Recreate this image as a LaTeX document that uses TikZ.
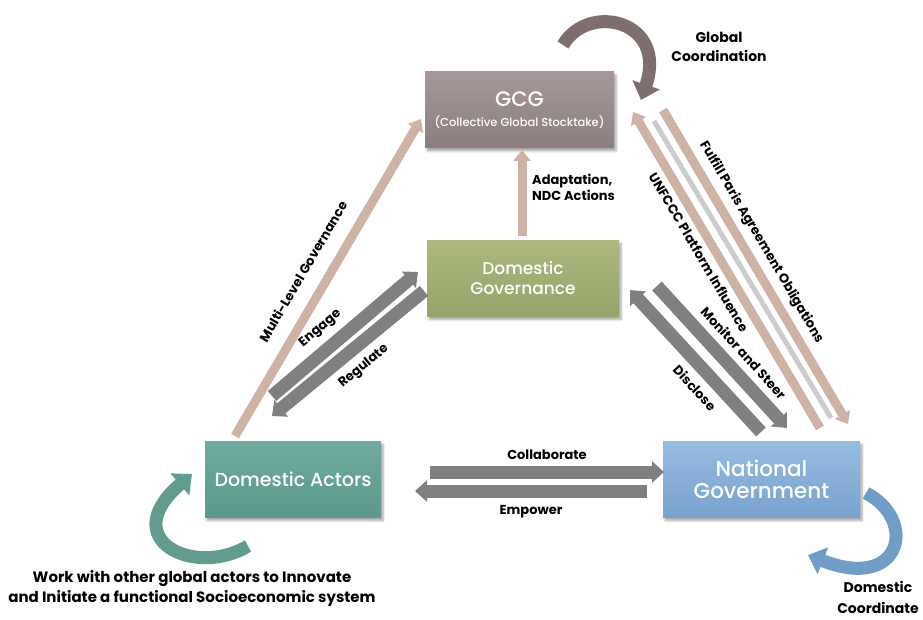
\documentclass[tikz,border=0pt]{standalone}
\usepackage{fontspec}
\setmainfont{Poppins}
\newfontfamily\boxfont{Poppins Medium}
\usetikzlibrary{arrows.meta,shadows.blur,calc}
\definecolor{gcgtop}{RGB}{166,152,152}
\definecolor{gcgbot}{RGB}{140,126,126}
\definecolor{dgtop}{RGB}{172,184,128}
\definecolor{dgbot}{RGB}{150,163,106}
\definecolor{datop}{RGB}{112,170,158}
\definecolor{dabot}{RGB}{92,152,140}
\definecolor{ngtop}{RGB}{150,188,225}
\definecolor{ngbot}{RGB}{120,162,205}
\definecolor{tanc}{RGB}{206,178,166}
\definecolor{grayc}{RGB}{128,128,128}
\definecolor{gccurve}{RGB}{126,110,110}
\definecolor{dacurve}{RGB}{98,156,142}
\definecolor{ngcurve}{RGB}{112,156,200}
\begin{document}
\begin{tikzpicture}[x=1pt,y=-1pt,
  box/.style={rectangle, minimum height=76pt, text=white, align=center, inner sep=0pt,
    blur shadow={shadow blur steps=6, shadow xshift=2pt, shadow yshift=-3pt, shadow opacity=35}},
  tanfwd/.style={draw=tanc, line width=9pt, -{Triangle[length=11pt,width=17pt]}},
  tanback/.style={draw=tanc, line width=9pt, {Triangle[length=11pt,width=17pt]}-},
  grayfwd/.style={draw=grayc, line width=13pt, -{Triangle[length=12pt,width=21pt]}},
  grayback/.style={draw=grayc, line width=13pt, {Triangle[length=12pt,width=21pt]}-},
  curv/.style={line width=13pt, -{Triangle[length=16pt,width=28pt]}},
  lab/.style={font=\bfseries\fontsize{13}{16}\selectfont, text=black, inner sep=1pt},
  biglab/.style={font=\bfseries\fontsize{15}{20}\selectfont, text=black, align=center, inner sep=0pt}
]
\useasboundingbox (0,0) rectangle (923,620);

% boxes
\node[box, minimum width=189pt, top color=gcgtop, bottom color=gcgbot, font=\boxfont\fontsize{21}{20}\selectfont] (gcg) at (519.5,110)
  {GCG\\{\fontsize{11.5}{12}\selectfont (Collective Global Stocktake)}};
\node[box, minimum width=192pt, top color=dgtop, bottom color=dgbot, font=\boxfont\fontsize{17}{20}\selectfont] (dg) at (523,278.5)
  {Domestic\\Governance};
\node[box, minimum width=176pt, top color=datop, bottom color=dabot, font=\boxfont\fontsize{19}{22}\selectfont] (da) at (293,479.5)
  {Domestic Actors};
\node[box, minimum width=197pt, top color=ngtop, bottom color=ngbot, font=\boxfont\fontsize{21.5}{22.5}\selectfont] (ng) at (761.5,479.5)
  {National\\Government};

% arrow end points
\coordinate (adT) at (522,236);
\coordinate (adH) at (522,150);
\coordinate (mlT) at (235,436);
\coordinate (mlH) at (421,119);
\coordinate (enT) at (272,396);
\coordinate (enH) at (418,272);
\coordinate (reH) at (272,416);
\coordinate (reT) at (424,291);
\coordinate (msT) at (657,286);
\coordinate (msH) at (787,428);
\coordinate (diH) at (630,290);
\coordinate (diT) at (761,432);
\coordinate (unH) at (633,112);
\coordinate (unT) at (820,428);
\coordinate (fuT) at (663,110);
\coordinate (fuH) at (848,424);
\coordinate (coT) at (430,472);
\coordinate (coH) at (664,472);
\coordinate (emH) at (415,491);
\coordinate (emT) at (647,491);

% soft grey strip between the long right arrows
\draw[line width=5pt, draw=black!20] ($(unH)!0.5!(fuT)+(6,10)$) -- ($(unT)!0.5!(fuH)+(-3,-8)$);

% straight arrows
\draw[tanfwd] (adT) -- (adH);
\node[lab, anchor=west, align=left] (adl) at (531,187) {Adaptation,\\NDC Actions};

\draw[tanfwd] (mlT) -- node[lab, sloped, above=14pt, pos=0.48] (mll) {Multi-Level Governance} (mlH);

\draw[grayfwd] (enT) -- node[lab, sloped, above=6pt, pos=0.42] (enl) {Engage} (enH);
\draw[grayback] (reH) -- node[lab, sloped, below=6pt, pos=0.52] (rel) {Regulate} (reT);

\draw[grayfwd] (msT) -- node[lab, sloped, above=6pt, pos=0.56] (msl) {Monitor and Steer} (msH);
\draw[grayback] (diH) -- node[lab, sloped, below=6pt, pos=0.6] (dil) {Disclose} (diT);

\draw[tanback] (unH) -- node[lab, sloped, below=4pt, pos=0.42] (unl) {UNFCCC Platform Influence} (unT);
\draw[tanfwd] (fuT) -- node[lab, sloped, above=5pt, pos=0.45] (ful) {Fulfill Paris Agreement Obligations} (fuH);

\draw[grayfwd] (coT) -- node[lab, above=5pt] (col) {Collaborate} (coH);
\draw[grayback] (emH) -- node[lab, below=7pt] (eml) {Empower} (emT);

% curved arrows
\coordinate (gcA) at (563,45);
\coordinate (gcB) at (641,100);
\draw[curv, draw=gccurve] (gcA) .. controls (588,2) and (668,20) .. (gcB);
\node[biglab, font=\bfseries\fontsize{14}{19}\selectfont] (gcl) at (719,47) {Global\\Coordination};

\coordinate (daA) at (248,546);
\coordinate (daB) at (192,474);
\draw[curv, draw=dacurve] (daA) .. controls (195,578) and (115,540) .. (daB);
\node[biglab] (dal) at (192,588) {Work with other global actors to Innovate\\and Initiate a functional Socioeconomic system};

\coordinate (ngA) at (866,493);
\coordinate (ngB) at (808,555);
\draw[curv, draw=ngcurve] (ngA) .. controls (918,520) and (902,592) .. (ngB);
\node[biglab, font=\bfseries\fontsize{14}{21}\selectfont] (ngl) at (878,597) {Domestic\\Coordinate};
\end{tikzpicture}
\end{document}
